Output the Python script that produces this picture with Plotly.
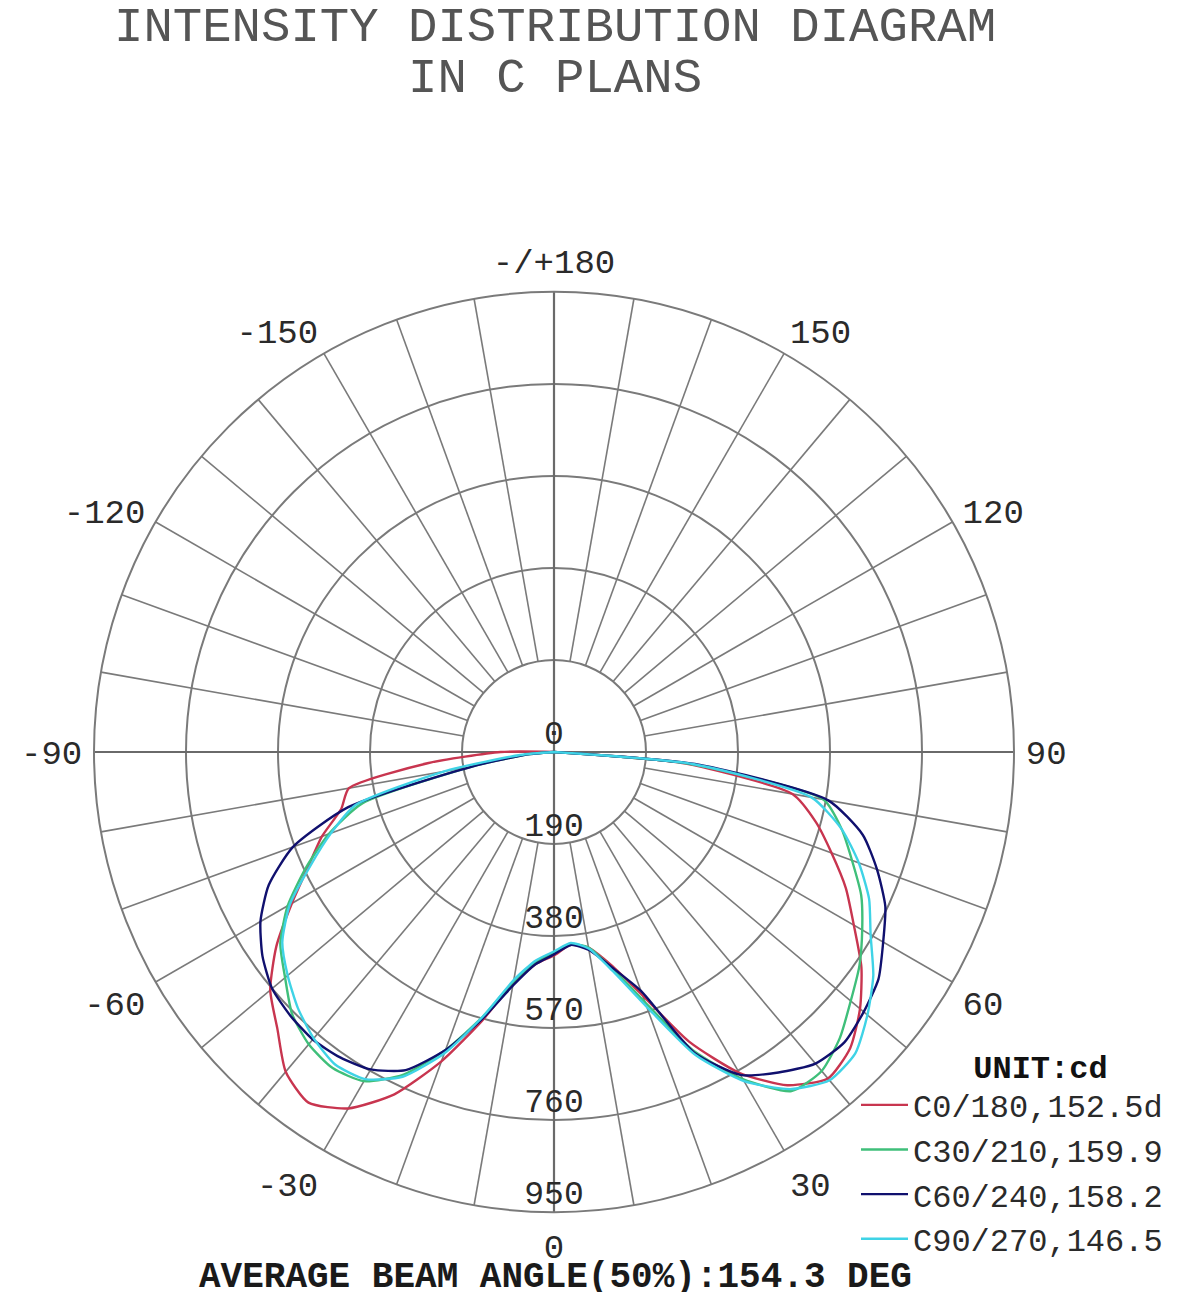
import plotly.graph_objects as go

# ---------------- data ----------------
GAMMA = [-95, -90, -85, -80, -75, -70, -65, -60, -55, -50, -45, -40, -35, -30, -25, -20, -15, -10, -5,
         0, 5, 10, 15, 20, 25, 30, 35, 40, 45, 50, 55, 60, 65, 70, 75, 80, 85, 90, 95]

C0_180 = [0, 110, 260, 430, 455, 510, 560, 625, 700, 765, 808, 862, 884, 850, 780, 680, 575, 485, 440,
          420, 400, 410, 455, 535, 660, 765, 840, 880, 865, 825, 775, 715, 665, 610, 560, 500, 270, 0, 0]
C30_210 = [0, 0, 50, 170, 410, 495, 565, 635, 690, 725, 765, 788, 797, 785, 735, 655, 565, 482, 435,
           415, 398, 410, 462, 550, 680, 780, 855, 860, 835, 800, 770, 735, 700, 655, 615, 565, 280, 0, 0]
C60_240 = [0, 0, 50, 170, 440, 574, 650, 700, 735, 760, 770, 775, 770, 757, 725, 655, 570, 490, 440,
           418, 400, 415, 460, 525, 685, 770, 808, 840, 848, 835, 818, 785, 755, 710, 660, 575, 300, 0, 0]
C90_270 = [0, 0, 70, 230, 425, 490, 555, 630, 685, 718, 748, 772, 788, 780, 740, 662, 565, 478, 432,
           412, 396, 412, 468, 560, 690, 785, 850, 885, 880, 845, 805, 755, 718, 670, 615, 540, 290, 0, 0]

SERIES_NAMES = ["C0/180,152.5d", "C30/210,159.9", "C60/240,158.2", "C90/270,146.5"]
SERIES_COLORS = ["#c8354f", "#3fbf7a", "#10106e", "#3fd3e6"]

RADIAL_TICKS = [0, 190, 380, 570, 760, 950]
ANGLE_TICKVALS = [0, 30, 60, 90, 120, 150, 180, 210, 240, 270, 300, 330]
ANGLE_TICKTEXT = ["0", "30", "60", "90", "120", "150", "-/+180", "-150", "-120", "-90", "-60", "-30"]

TITLE_LINES = ["INTENSITY DISTRIBUTION DIAGRAM", "IN C PLANS"]
FOOTER = "AVERAGE BEAM ANGLE(50%):154.3 DEG"
UNIT = "UNIT:cd"

# ---------------- figure ----------------
W, H = 1179, 1292
FONT = "Courier New, Liberation Mono, monospace"
GRID = "#7a7a7a"
RMAX = RADIAL_TICKS[-1]
RIN = RADIAL_TICKS[1]

fig = go.Figure()

# spokes every 10 degrees (main axes through the centre, others from the inner ring)
minor_r, minor_t, major_r, major_t = [], [], [], []
for a in range(0, 360, 10):
    if a % 90 == 0:
        major_r += [0, RMAX, None]
        major_t += [a, a, None]
    else:
        minor_r += [RIN, RMAX, None]
        minor_t += [a, a, None]
fig.add_trace(go.Scatterpolar(r=minor_r, theta=minor_t, mode="lines",
                              line=dict(color=GRID, width=1.6), hoverinfo="skip", showlegend=False))
fig.add_trace(go.Scatterpolar(r=major_r, theta=major_t, mode="lines",
                              line=dict(color="#6a6a6a", width=2.2), hoverinfo="skip", showlegend=False))

# data curves
for name, vals, col in zip(SERIES_NAMES, [C0_180, C30_210, C60_240, C90_270], SERIES_COLORS):
    fig.add_trace(go.Scatterpolar(r=vals, theta=GAMMA, mode="lines", name=name,
                                  line=dict(color=col, width=2.4, shape="spline", smoothing=0.6)))

# radial tick labels along the 0 direction
fig.add_trace(go.Scatterpolar(r=RADIAL_TICKS, theta=[0] * len(RADIAL_TICKS), mode="text",
                              text=[str(v) for v in RADIAL_TICKS], textposition="top center",
                              textfont=dict(family=FONT, size=33, color="#2a2a2a"),
                              cliponaxis=False, hoverinfo="skip", showlegend=False))

CX, CY, R = 554, 752, 460
fig.update_layout(
    width=W, height=H,
    margin=dict(l=0, r=0, t=0, b=0, autoexpand=False),
    paper_bgcolor="white",
    showlegend=True,
    polar=dict(
        domain=dict(x=[(CX - R) / W, (CX + R) / W], y=[1 - (CY + R) / H, 1 - (CY - R) / H]),
        bgcolor="white",
        angularaxis=dict(rotation=-90, direction="counterclockwise",
                         tickmode="array", tickvals=ANGLE_TICKVALS, ticktext=ANGLE_TICKTEXT,
                         showgrid=False, showline=True, linecolor=GRID, linewidth=2,
                         ticks="outside", ticklen=4, tickcolor="rgba(0,0,0,0)",
                         tickfont=dict(family=FONT, size=34, color="#2a2a2a")),
        radialaxis=dict(range=[0, RMAX], tickvals=RADIAL_TICKS[1:-1], showticklabels=False,
                        showgrid=True, gridcolor=GRID, gridwidth=1.6, showline=False, ticks=""),
    ),
    legend=dict(x=856 / W, y=1 - 1036 / H, xanchor="left", yanchor="top",
                bgcolor="rgba(0,0,0,0)", borderwidth=0,
                font=dict(family=FONT, size=32, color="#2a2a2a"),
                title=dict(text="\u00a0" * 6 + "<b>" + UNIT + "</b>", side="top",
                           font=dict(family=FONT, size=32, color="#111")),
                itemwidth=47, tracegroupgap=0),
    annotations=[
        dict(text=TITLE_LINES[0], x=555 / W, y=1 - 28 / H, xref="paper", yref="paper",
             showarrow=False, xanchor="center", yanchor="middle",
             font=dict(family=FONT, size=49, color="#555555")),
        dict(text=TITLE_LINES[1], x=555 / W, y=1 - 79 / H, xref="paper", yref="paper",
             showarrow=False, xanchor="center", yanchor="middle",
             font=dict(family=FONT, size=49, color="#555555")),
        dict(text="<b>" + FOOTER + "</b>", x=555 / W, y=1 - 1277 / H, xref="paper", yref="paper",
             showarrow=False, xanchor="center", yanchor="middle",
             font=dict(family=FONT, size=36, color="#1a1a1a")),
    ],
)

# let the figure fill the window exactly (no default 8px page margin)
fig.write_html("out.html", config={"displayModeBar": False},
               post_script="document.body.style.margin='0px';")
